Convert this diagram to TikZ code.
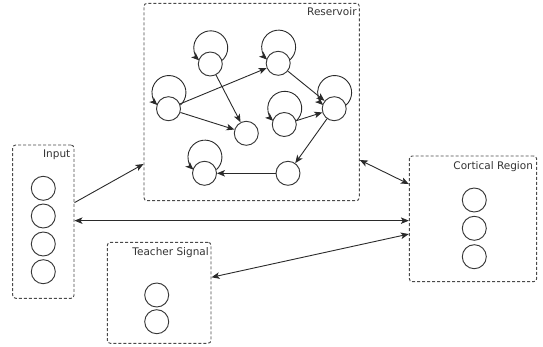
\documentclass[tikz,border=0pt]{standalone}
\usepackage{fontspec}
\newfontfamily\labelfont{DejaVu Sans}
\usetikzlibrary{arrows.meta}
\definecolor{boxgray}{HTML}{4A4A4A}
\definecolor{circgray}{HTML}{383838}
\definecolor{arrowgray}{HTML}{2A2A2A}
\definecolor{textgray}{HTML}{333333}
\tikzset{
  box/.style={draw=boxgray, dash pattern=on 3pt off 2pt, rounded corners=3pt, line width=0.95pt, inner sep=0pt},
  neuron/.style={circle, draw=circgray, line width=0.95pt, minimum size=24pt, inner sep=0pt},
  tip/.tip={Stealth[length=8pt,width=6.5pt,inset=2pt]},
  conn/.style={draw=arrowgray, line width=0.9pt, -tip},
  biconn/.style={draw=arrowgray, line width=0.9pt, tip-tip},
  lbl/.style={anchor=base east, font=\labelfont\fontsize{10.5}{12}\selectfont, text=textgray, inner sep=0pt}
}
\begin{document}
\begin{tikzpicture}[x=1pt,y=1pt]
\path[use as bounding box] (0,0) rectangle (543,346);
% boxes
\node[box, minimum width=61.3pt, minimum height=153.3pt] (in) at (43.35,124.35) {};
\node[box, minimum width=215.3pt, minimum height=197.4pt] (res) at (251.65,244) {};
\node[box, minimum width=127.4pt, minimum height=125.7pt] (cort) at (473,127.15) {};
\node[box, minimum width=103.7pt, minimum height=101pt] (teach) at (159.15,53.2) {};
% labels
\node[lbl] (inl) at ([xshift=-4pt,yshift=-13.3pt]in.north east) {Input};
\node[lbl] (resl) at ([xshift=-3pt,yshift=-13pt]res.north east) {Reservoir};
\node[lbl] (cortl) at ([xshift=-4pt,yshift=-14pt]cort.north east) {Cortical Region};
\node[lbl] (teachl) at ([xshift=-2.5pt,yshift=-13.4pt]teach.north east) {Teacher Signal};
% input neurons
\node[neuron] (i1) at (43.3,157.7) {};
\node[neuron] (i2) at (43.3,130) {};
\node[neuron] (i3) at (43.3,102) {};
\node[neuron] (i4) at (43.3,74.3) {};
% cortical neurons
\node[neuron] (c1) at (474.3,146) {};
\node[neuron] (c2) at (474.3,117.7) {};
\node[neuron] (c3) at (474.3,89.3) {};
% teacher neurons
\node[neuron] (t1) at (156.7,51) {};
\node[neuron] (t2) at (156.7,24.3) {};
% reservoir neurons
\node[neuron] (A) at (210.3,282) {};
\node[neuron] (B) at (278.2,282.7) {};
\node[neuron] (C) at (168.5,237.3) {};
\node[neuron] (D) at (246.3,212.7) {};
\node[neuron] (E) at (284.3,221.5) {};
\node[neuron] (F) at (334.2,237.3) {};
\node[neuron] (G) at (204.5,172.7) {};
\node[neuron] (H) at (288,172.7) {};
% self loops
\foreach \n in {A,B,C,E,F,G}
  \draw[conn] (\n.17) arc[start angle=-47.4, end angle=227.4, radius=17pt];
% reservoir edges
\draw[conn] (C) -- (B);
\draw[conn] (C) -- (D);
\draw[conn] (A) -- (D);
\draw[conn] (B) -- (F);
\draw[conn] (E) -- (F);
\draw[conn] (F) -- (H);
\draw[conn] (H) -- (G);
% box connectors
\draw[conn] ([yshift=19pt]in.east) -- ([yshift=-62pt]res.west);
\coordinate (ic) at ([yshift=1pt]in.east);
\draw[biconn] (ic) -- (cort.west |- ic);
\draw[biconn] ([yshift=-58pt]res.east) -- ([yshift=34.8pt]cort.west);
\draw[biconn] ([yshift=15.5pt]teach.east) -- ([yshift=-15.2pt]cort.west);
\end{tikzpicture}
\end{document}
